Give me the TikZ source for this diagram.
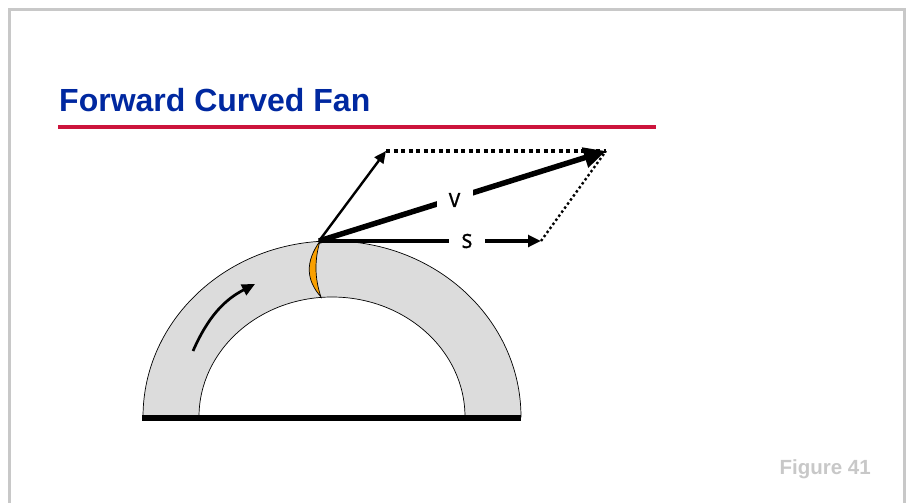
\documentclass[tikz,border=0pt]{standalone}
\usepackage{fontspec}
\setmainfont{Liberation Sans}
\setsansfont[FakeBold=0.6,FakeStretch=0.88]{Open Sans}
\usetikzlibrary{arrows.meta}
\definecolor{titleblue}{RGB}{0,40,160}
\definecolor{rulered}{RGB}{204,20,60}
\definecolor{framegray}{RGB}{200,200,200}
\definecolor{archgray}{RGB}{220,220,220}
\definecolor{bladeorange}{RGB}{250,160,0}
\tikzset{
  tipa/.style={-{Triangle[length=#1pt,width=#1*0.9pt]}},
  veclabel/.style={fill=white,inner sep=0pt,minimum width=#1,minimum height=22pt,font=\sffamily\fontsize{26}{26}\selectfont},
  dotline/.style={line width=3.2pt,dash pattern=on 4pt off 3.5pt},
}
\begin{document}
\begin{tikzpicture}[x=1pt,y=-1pt]
\useasboundingbox (0,0) rectangle (906,503);
% frame
\draw[framegray,line width=3pt] (9.5,503) -- (9.5,9.5) -- (904.5,9.5) -- (904.5,503);
% title
\node[anchor=west,inner sep=0pt,text=titleblue,font=\bfseries\fontsize{32}{34}\selectfont] (title) at (59,100) {Forward Curved Fan};
\fill[rulered] (58,125.5) rectangle (656,129);
\node[anchor=east,inner sep=0pt,text=framegray,font=\bfseries\fontsize{20.5}{22}\selectfont] (fig) at (871,469) {Figure 41};
% arch
\draw[black,line width=0.7pt,fill=archgray]
  (143,417) arc[start angle=180,end angle=360,x radius=189,y radius=176]
  -- (465,417) arc[start angle=360,end angle=180,x radius=133,y radius=120] -- cycle;
% blade
\draw[fill=bladeorange,line width=0.7pt]
  (320,241) .. controls (305,262) and (306,280) .. (321,297)
  .. controls (314.5,278) and (314.5,260) .. (320,241) -- cycle;
% base
\fill[black] (142,415) rectangle (521,421);
% rotation arrow
\coordinate (ra) at (193,351);
\coordinate (rb) at (255,284);
\draw[line width=2.7pt,tipa=13] (ra) .. controls (208,317) and (224,300) .. (rb);
% vectors
\coordinate (o) at (319,241);
\coordinate (a) at (386,151);
\coordinate (b) at (606,151);
\coordinate (c) at (541,241);
\draw[dotline] (a) -- (b);
\draw[line width=2.4pt,dash pattern=on 2.4pt off 2.6pt] (c) -- (b);
\draw[line width=2.4pt,tipa=12] (o) -- (a);
\draw[line width=3.3pt,tipa=13] (o) -- (c);
\draw[line width=5.5pt,tipa=22] (o) -- (b);
\node[veclabel=36pt] (v) at (454.5,200) {v};
\node[veclabel=36pt] (s) at (467,241) {s};
\end{tikzpicture}
\end{document}
